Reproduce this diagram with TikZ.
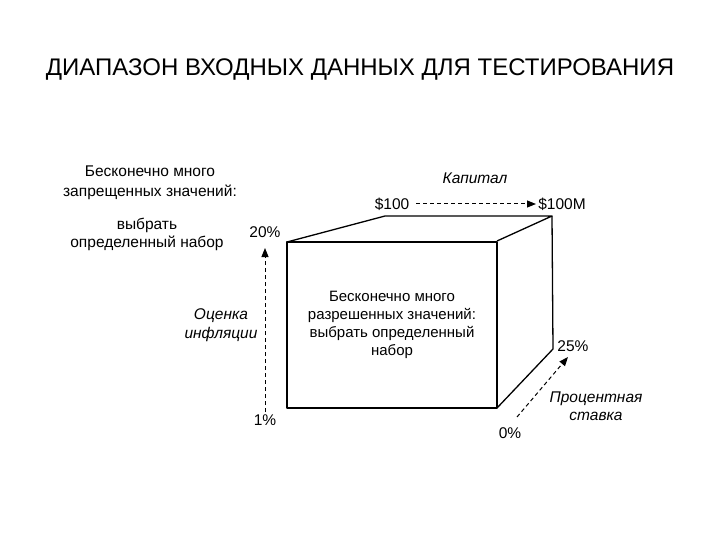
\documentclass[tikz,border=0pt]{standalone}
\usepackage{fontspec}
\setmainfont{Liberation Sans}
\usetikzlibrary{arrows.meta}
\begin{document}
\begin{tikzpicture}[x=1pt,y=-1pt,
  lbl/.style={font=\fontsize{15.5}{19}\selectfont, align=center, inner sep=0pt},
  ilbl/.style={lbl, font=\fontsize{15.5}{18.5}\selectfont\itshape},
  edge/.style={line width=1.3pt, line join=round},
  axis/.style={line width=1pt, dash pattern=on 4pt off 3pt, -{Triangle[length=9pt,width=7pt]}}]
\useasboundingbox (0,0) rectangle (720,540);
\node[inner sep=0pt, font=\fontsize{24}{28}\selectfont] (title) at (360,70) {ДИАПАЗОН ВХОДНЫХ ДАННЫХ ДЛЯ ТЕСТИРОВАНИЯ};
% cube
\coordinate (ftl) at (287,242);
\coordinate (ftr) at (497,241);
\coordinate (fbr) at (497,408);
\coordinate (fbl) at (287,408);
\coordinate (btl) at (385,216);
\coordinate (btr) at (552,216);
\coordinate (bbr) at (553,349);
\draw[edge] (ftl) rectangle (fbr);
\draw[edge] (ftl) -- (btl) -- (btr) -- (ftr);
\draw[edge] (btr) -- (bbr) -- (fbr);
\node[lbl, font=\fontsize{15}{18}\selectfont] (inner) at (392,325) {Бесконечно много\\разрешенных значений:\\выбрать определенный\\набор};
% left labels
\node[lbl, font=\fontsize{15.5}{20}\selectfont] (forb) at (150,183) {Бесконечно много\\запрещенных значений:};
\node[lbl, font=\fontsize{15.5}{18}\selectfont] (choose) at (147,234) {выбрать\\определенный набор};
% inflation axis
\node[lbl] (p20) at (265,232) {20\%};
\node[lbl] (p1) at (265,420) {1\%};
\coordinate (ia) at (265,412);
\coordinate (ib) at (265,248);
\draw[axis] (ia) -- (ib);
\node[ilbl] (infl) at (221,325) {Оценка\\инфляции};
% capital axis
\node[ilbl] (cap) at (475,178) {Капитал};
\node[lbl] (c100) at (392,204) {\$100};
\node[lbl] (c100m) at (562,204) {\$100M};
\coordinate (ca) at (416,204);
\coordinate (cb) at (536,204);
\draw[axis] (ca) -- (cb);
% rate axis
\node[lbl] (p25) at (573,346) {25\%};
\node[lbl] (p0) at (510,433) {0\%};
\coordinate (ra) at (517,417);
\coordinate (rb) at (568,357);
\draw[axis] (ra) -- (rb);
\node[ilbl] (rate) at (596,406) {Процентная\\ставка};
\end{tikzpicture}
\end{document}
